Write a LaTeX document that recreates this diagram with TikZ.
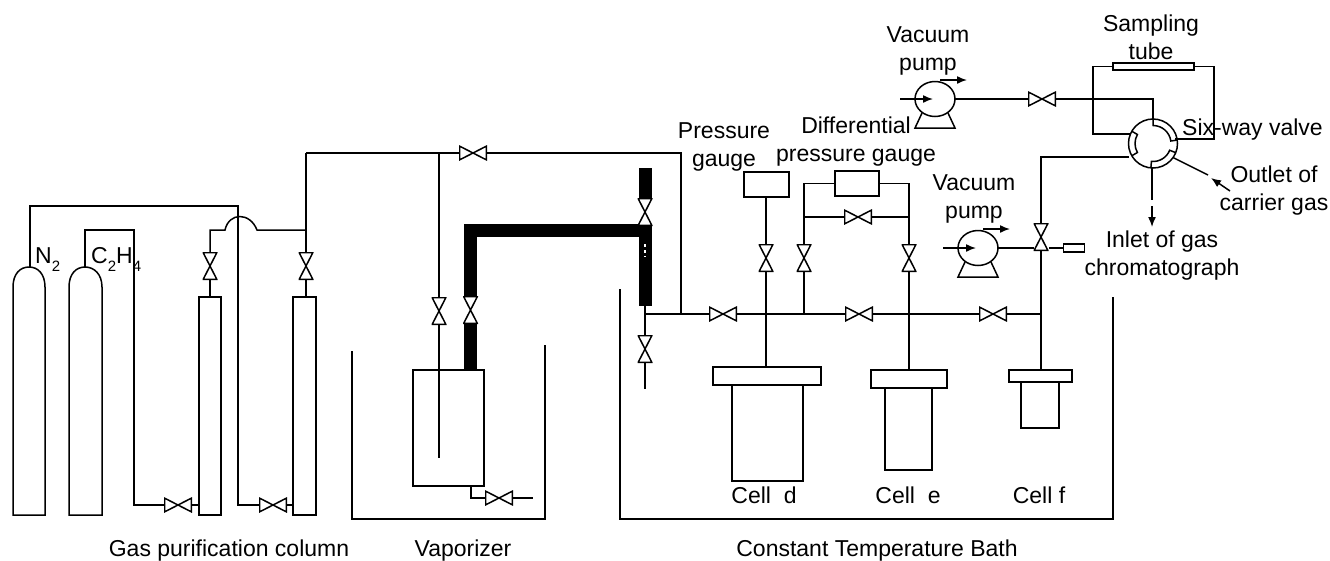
\documentclass[tikz,border=0pt]{standalone}
\usepackage{fontspec}
\setmainfont{Liberation Sans}
\usetikzlibrary{arrows.meta,shapes.geometric}
\newcommand{\subdown}[1]{\raisebox{-8pt}{\fontsize{15}{15}\selectfont #1}}
\tikzset{
 pipe/.style={line width=1.5pt, line join=miter},
 thickpipe/.style={line width=13pt, line join=miter},
 tip/.style={pipe, -{Latex[length=10pt,width=8pt]}},
 boxy/.style={draw, pipe, fill=white, inner sep=0pt, outer sep=0pt},
 valveh/.style={inner sep=0pt, outer sep=0pt, fill=white, minimum width=28pt, minimum height=15pt,
  path picture={\draw[line width=1.5pt] ([shift={(.7pt,.7pt)}]path picture bounding box.south west) -- ([shift={(-.7pt,-.7pt)}]path picture bounding box.north east) -- ([shift={(-.7pt,.7pt)}]path picture bounding box.south east) -- ([shift={(.7pt,-.7pt)}]path picture bounding box.north west) -- cycle;}},
 valvev/.style={inner sep=0pt, outer sep=0pt, fill=white, minimum width=15pt, minimum height=28pt,
  path picture={\draw[line width=1.5pt] ([shift={(.7pt,.7pt)}]path picture bounding box.south west) -- ([shift={(-.7pt,-.7pt)}]path picture bounding box.north east) -- ([shift={(.7pt,-.7pt)}]path picture bounding box.north west) -- ([shift={(-.7pt,.7pt)}]path picture bounding box.south east) -- cycle;}},
 pumpbody/.style={ellipse, draw, pipe, fill=white, inner sep=0pt, outer sep=0pt, minimum width=40pt, minimum height=35pt},
 lbl/.style={align=center, inner sep=0pt, font=\fontsize{23}{28}\selectfont},
 pumpparts/.pic={
  \draw[pipe] (-13,14) -- (-20,29) -- (20,29) -- (13,14);
  \draw[tip] (-35,0) -- (-2,0);
  \draw[tip] (5,-19) -- (32,-19);
 }
}
\begin{document}
\begin{tikzpicture}[x=1pt, y=-1pt]
 \useasboundingbox (0,0) rectangle (1330,560);

 % cylinders
 \draw[pipe] (13,515) -- (13,287) .. controls (13,274) and (20,267) .. (29,267) .. controls (38,267) and (45,274) .. (45,287) -- (45,515) -- cycle;
 \draw[pipe] (69,515) -- (69,287) .. controls (69,274) and (76,267) .. (85,267) .. controls (94,267) and (102,274) .. (102,287) -- (102,515) -- cycle;
 \coordinate (ntop) at (30,267);
 \coordinate (ctop) at (85,267);

 % purification columns
 \node[boxy, minimum width=22pt, minimum height=218pt] (cola) at (210,406) {};
 \node[boxy, minimum width=23pt, minimum height=218pt] (colb) at (304.5,406) {};
 \node[valveh] (vaa) at (178,505) {};
 \node[valveh] (vbb) at (273,505) {};
 \node[valvev] (vab) at (210,266) {};
 \node[valvev] (vba) at (306,266) {};
 \draw[pipe] (ctop) -- (85,230) -- (134,230) -- (134,505) -- (vaa);
 \draw[pipe] (vaa) -- (vaa -| cola.west);
 \draw[pipe] (ntop) -- (30,206) -- (238,206) -- (238,505) -- (vbb);
 \draw[pipe] (vbb) -- (vbb -| colb.west);
 \draw[pipe] (vab) -- (vab |- cola.north);
 \draw[pipe] (vba) -- (vba |- colb.north);
 \draw[pipe] (vab) -- (210,230) -- (225,230) .. controls (229,212) and (250,212) .. (257,230) -- (306,230);
 \draw[pipe] (vba) -- (306,153);
 \node[lbl, anchor=base west] (ntwo) at (35,263) {N\subdown{2}};
 \node[lbl, anchor=base west] (cthree) at (91,263) {C\subdown{2}H\subdown{4}};

 % top line
 \node[valveh] (vtop) at (473,153) {};
 \coordinate (splitv) at (439,153);
 \draw[pipe] (306,153) -- (vtop);
 \draw[pipe] (vtop) -- (681,153) -- (681,314);

 % vaporizer
 \node[boxy, minimum width=71pt, minimum height=116pt] (vapor) at (448.5,428) {};
 \node[valvev] (vdip) at (439,311) {};
 \draw[pipe] (splitv) -- (vdip);
 \draw[pipe] (vdip) -- (439,458);
 \node[valveh] (vdrain) at (499,498) {};
 \draw[pipe] (471,486) -- (471,498) -- (vdrain);
 \draw[pipe] (vdrain) -- (533,498);
 \draw[pipe] (352,351) -- (352,519) -- (545,519) -- (545,345);

 % heated line
 \draw[thickpipe] (470.5,370) -- (470.5,230.5) -- (651,230.5);
 \draw[thickpipe] (645,168) -- (645,306);
 \draw[white, line width=1.6pt, dash pattern=on 3pt off 3pt] (645,244) -- (645,257);
 \node[valvev] (vhot) at (470.5,310) {};
 \node[valvev] (vhotb) at (645,212) {};
 \node[valvev] (vvent) at (645,349) {};
 \draw[pipe] (645,306) -- (vvent);
 \draw[pipe] (vvent) -- (645,389);

 % constant temperature bath
 \draw[pipe] (620,289) -- (620,519) -- (1113,519) -- (1113,297);

 % cells
 \node[boxy, minimum width=71pt, minimum height=96pt] (celld) at (767.5,433) {};
 \node[boxy, minimum width=108pt, minimum height=18pt] (lidd) at (767,376) {};
 \node[boxy, minimum width=47pt, minimum height=82pt] (celle) at (908.5,429) {};
 \node[boxy, minimum width=76pt, minimum height=18pt] (lide) at (909,379) {};
 \node[boxy, minimum width=38pt, minimum height=46pt] (cellf) at (1040,405) {};
 \node[boxy, minimum width=63pt, minimum height=12pt] (lidf) at (1040.5,376) {};
 \node[lbl] (labd) at (764,495) {Cell\ \ d};
 \node[lbl] (labe) at (908,495) {Cell\ \ e};
 \node[lbl] (labf) at (1039,495) {Cell f};

 % main line
 \node[valveh] (vmaina) at (723,314) {};
 \node[valveh] (vmainb) at (859,314) {};
 \node[valveh] (vmainc) at (993,314) {};
 \draw[pipe] (645,314) -- (vmaina);
 \draw[pipe] (vmaina) -- (vmainb);
 \draw[pipe] (vmainb) -- (vmainc);
 \draw[pipe] (vmainc) -- (1041,314);

 % gauges
 \node[boxy, minimum width=45pt, minimum height=25pt] (pgauge) at (766.5,184.5) {};
 \node[boxy, minimum width=44pt, minimum height=25pt] (dgauge) at (857,183.5) {};
 \node[valvev] (vpg) at (766,258) {};
 \node[valvev] (vdl) at (804,258) {};
 \node[valvev] (vdr) at (909,258) {};
 \node[valveh] (vby) at (858,217) {};
 \draw[pipe] (pgauge.south -| vpg) -- (vpg);
 \draw[pipe] (vpg) -- (vpg |- lidd.north);
 \draw[pipe] (dgauge.west) -- (804,183.5) -- (vdl);
 \draw[pipe] (vdl) -- (804,314);
 \draw[pipe] (dgauge.east) -- (909,183.5) -- (vdr);
 \draw[pipe] (vdr) -- (vdr |- lide.north);
 \draw[pipe] (804,217) -- (vby);
 \draw[pipe] (vby) -- (909,217);

 % six-way valve
 \node[circle, draw, pipe, inner sep=0pt, outer sep=0pt, minimum size=49pt] (sixway) at (1153,143.5) {};
 \draw[pipe] (sixway.center) ++(-90:24.5) -- ++(-90:-6.5) arc[start angle=-90, end angle=-8, radius=18] -- ++(-8:6.5);
 \draw[pipe] (sixway.center) ++(-150:24.5) -- ++(-150:-6.5) arc[start angle=-150, end angle=-210, radius=18] -- ++(-210:6.5);
 \draw[pipe] (sixway.center) ++(95:24.5) -- ++(95:-6.5) arc[start angle=95, end angle=22, radius=18] -- ++(22:6.5);

 % sampling loop
 \node[boxy, minimum width=81pt, minimum height=7pt] (stube) at (1153.5,66.5) {};
 \draw[pipe] (stube.west) -- (1093,66.5) -- (1093,134) -- (1130,134);
 \draw[pipe] (stube.east) -- (1214,66.5) -- (1214,139) -- (1175,139);

 % top pump
 \node[pumpbody] (pumpa) at (935,99) {};
 \pic at (pumpa) {pumpparts};
 \node[valveh] (vpa) at (1042,99) {};
 \draw[pipe] (pumpa.east) -- (vpa);
 \draw[pipe] (vpa) -- (1153,99) -- (1153,119);

 % lower pump
 \node[pumpbody] (pumpb) at (978,248) {};
 \pic at (pumpb) {pumpparts};
 \node[boxy, minimum width=21pt, minimum height=8pt] (plug) at (1074,248) {};
 \draw[pipe] (pumpb.east) -- (plug.west);
 \node[valvev] (vpb) at (1041,237) {};
 \draw[pipe] (1129,157) -- (1041,157) -- (vpb);
 \draw[pipe] (vpb) -- (vpb |- lidf.north);

 % outlets
 \coordinate (gcend) at (1152,200);
 \coordinate (gcstart) at (1152,206);
 \coordinate (gctip) at (1152,227);
 \coordinate (carend) at (1208,175);
 \coordinate (carstart) at (1230,191);
 \coordinate (cartip) at (1211,178);
 \draw[pipe] (sixway.south -| gcend) -- (gcend);
 \draw[tip] (gcstart) -- (gctip);
 \draw[pipe] (sixway.-35) -- (carend);
 \draw[tip] (carstart) -- (cartip);

 % labels
 \node[lbl] (labsamp) at (1151,37) {Sampling\\tube};
 \node[lbl] (labpa) at (928,51) {Vacuum\\pump};
 \node[lbl] (labpb) at (974,199) {Vacuum\\pump};
 \node[lbl, anchor=west] (labsix) at (1182,130) {Six-way valve};
 \node[lbl] (labout) at (1274,191) {Outlet of\\carrier gas};
 \node[lbl] (labin) at (1162,256) {Inlet of gas\\chromatograph};
 \node[lbl] (labpg) at (724,147) {Pressure\\gauge};
 \node[lbl] (labdg) at (856,142) {Differential\\pressure gauge};
 \node[lbl] (labgas) at (229,551) {Gas purification column};
 \node[lbl] (labvap) at (463,551) {Vaporizer};
 \node[lbl] (labbath) at (877,551) {Constant Temperature Bath};
\end{tikzpicture}
\end{document}
